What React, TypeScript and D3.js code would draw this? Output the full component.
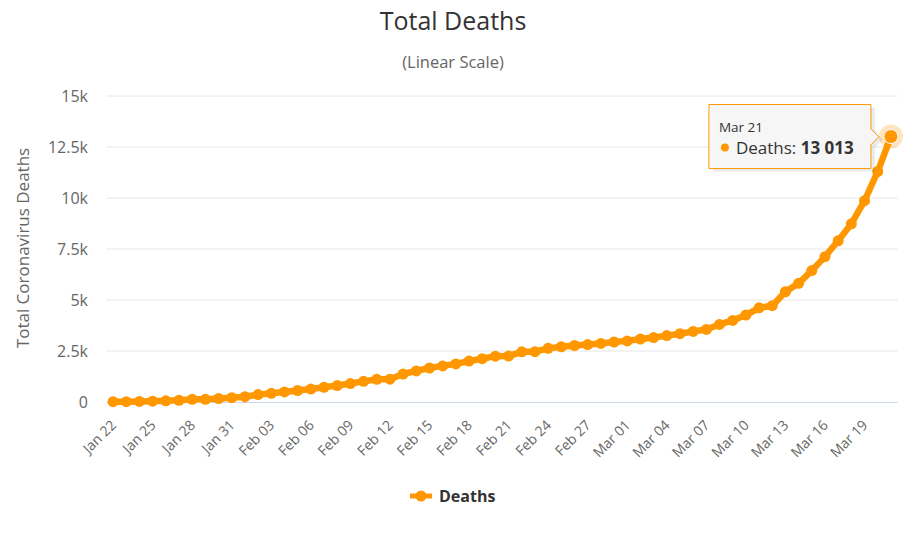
import React from "react";
import * as d3 from "d3";

const dates: string[] = [
  "Jan 22","Jan 23","Jan 24","Jan 25","Jan 26","Jan 27","Jan 28","Jan 29","Jan 30","Jan 31",
  "Feb 01","Feb 02","Feb 03","Feb 04","Feb 05","Feb 06","Feb 07","Feb 08","Feb 09","Feb 10",
  "Feb 11","Feb 12","Feb 13","Feb 14","Feb 15","Feb 16","Feb 17","Feb 18","Feb 19","Feb 20",
  "Feb 21","Feb 22","Feb 23","Feb 24","Feb 25","Feb 26","Feb 27","Feb 28","Feb 29","Mar 01",
  "Mar 02","Mar 03","Mar 04","Mar 05","Mar 06","Mar 07","Mar 08","Mar 09","Mar 10","Mar 11",
  "Mar 12","Mar 13","Mar 14","Mar 15","Mar 16","Mar 17","Mar 18","Mar 19","Mar 20","Mar 21",
];

const deaths: number[] = [
  17, 18, 26, 42, 56, 82, 131, 133, 171, 213,
  259, 362, 426, 492, 564, 634, 719, 806, 906, 1013,
  1113, 1118, 1371, 1523, 1666, 1770, 1868, 2007, 2122, 2247,
  2251, 2458, 2469, 2629, 2708, 2770, 2814, 2872, 2941, 2996,
  3085, 3160, 3254, 3348, 3460, 3558, 3803, 3996, 4262, 4615,
  4720, 5404, 5819, 6440, 7126, 7905, 8733, 9867, 11299, 13013,
];

const yTicks: number[] = [0, 2500, 5000, 7500, 10000, 12500, 15000];
const yTickLabels: string[] = ["0", "2.5k", "5k", "7.5k", "10k", "12.5k", "15k"];

const W = 912;
const H = 557;
const FONT = "'Open Sans', 'DejaVu Sans', sans-serif";
const ORANGE = "#FF9800";

export default function App() {
  const left = 106.5;
  const right = 897.5;
  const top = 96;
  const bottom = 402;

  const x = d3
    .scalePoint<string>()
    .domain(dates)
    .range([left, right])
    .padding(0.5);
  const y = d3.scaleLinear().domain([0, 15000]).range([bottom, top]);

  const line = d3
    .line<number>()
    .x((_, i) => x(dates[i]) as number)
    .y((d) => y(d));

  const lastI = deaths.length - 1;
  const lx = x(dates[lastI]) as number;
  const ly = y(deaths[lastI]);

  const fmt = (v: number) => d3.format(",")(v).replace(/,/g, " ");

  const tbW = 162;
  const tbH = 64;
  const tbX = lx - 182;
  const tbY = ly - 32;

  return (
    <div style={{ margin: "-8px" }}>
      <svg width={W} height={H} style={{ display: "block", background: "#fff", fontFamily: FONT }}>
        <rect x={0} y={0} width={W} height={H} fill="#ffffff" />
        <text x={453} y={30} textAnchor="middle" fontSize={25} fill="#333333">
          Total Deaths
        </text>
        <text x={453} y={68} textAnchor="middle" fontSize={16.5} fill="#666666">
          (Linear Scale)
        </text>

        {yTicks.map((t, i) => (
          <g key={t}>
            {t !== 0 && (
              <line x1={left} x2={right} y1={y(t)} y2={y(t)} stroke="#e6e6e6" strokeWidth={1} />
            )}
            <text x={88} y={y(t) + 5.5} textAnchor="end" fontSize={16} fill="#666666">
              {yTickLabels[i]}
            </text>
          </g>
        ))}
        <line x1={left} x2={right} y1={bottom + 0.5} y2={bottom + 0.5} stroke="#ccd6eb" strokeWidth={1} />

        <text
          transform={`translate(29,248) rotate(-90)`}
          textAnchor="middle"
          fontSize={17}
          fill="#666666"
        >
          Total Coronavirus Deaths
        </text>

        {dates.map((d, i) =>
          i % 3 === 0 ? (
            <text
              key={d}
              transform={`translate(${(x(d) as number) + 4},${bottom + 24}) rotate(-45)`}
              textAnchor="end"
              fontSize={14}
              fill="#666666"
            >
              {d}
            </text>
          ) : null
        )}

        <path d={line(deaths) || ""} fill="none" stroke={ORANGE} strokeWidth={6.5} strokeLinejoin="round" strokeLinecap="round" />
        {deaths.map((v, i) => (
          <circle key={i} cx={x(dates[i]) as number} cy={y(v)} r={5.5} fill={ORANGE} />
        ))}

        <circle cx={lx} cy={ly} r={12} fill={ORANGE} fillOpacity={0.25} />
        <circle cx={lx} cy={ly} r={7} fill={ORANGE} stroke="#ffffff" strokeWidth={1} />

        <g>
          <path
            d={`M ${tbX + 3} ${tbY + 2} h ${tbW} v ${tbH * 0.38} l 8 8 l -8 8 v ${tbH - tbH * 0.38 - 16} h ${-tbW} z`}
            fill="#000"
            fillOpacity={0.08}
            transform="translate(1,1)"
          />
          <path
            d={`M ${tbX} ${tbY} h ${tbW} v ${tbH * 0.38} l 8 8 l -8 8 v ${tbH - tbH * 0.38 - 16} h ${-tbW} z`}
            fill="#f7f7f7"
            fillOpacity={0.9}
            stroke={ORANGE}
            strokeWidth={1}
          />
          <text x={tbX + 10} y={tbY + 27} fontSize={13.5} fill="#333333">
            {dates[lastI]}
          </text>
          <circle cx={tbX + 16} cy={tbY + 43} r={4} fill={ORANGE} />
          <text x={tbX + 27} y={tbY + 49} fontSize={17} fill="#333333">
            Deaths: <tspan fontWeight="bold">{fmt(deaths[lastI])}</tspan>
          </text>
        </g>

        <g>
          <line x1={410} x2={432} y1={496} y2={496} stroke={ORANGE} strokeWidth={5} />
          <circle cx={421} cy={496} r={5.5} fill={ORANGE} />
          <text x={439} y={502} fontSize={16} fontWeight="bold" fill="#333333">
            Deaths
          </text>
        </g>
      </svg>
    </div>
  );
}
